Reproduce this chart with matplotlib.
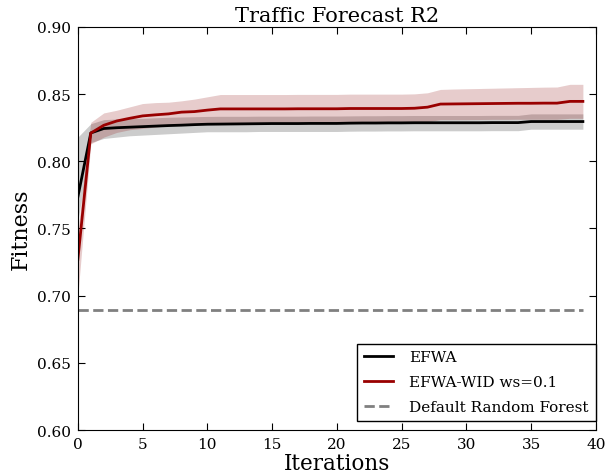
import matplotlib
matplotlib.use('Agg')
import matplotlib.pyplot as plt
import numpy as np

plt.rcParams['font.family'] = ['DejaVu Serif']

iterations = np.arange(40)

efwa_mean = [0.7735, 0.8211, 0.8244, 0.8250, 0.8254, 0.8258, 0.8262, 0.8266, 0.8269, 0.8273,
             0.8276, 0.8277, 0.8278, 0.8279, 0.8280, 0.8281, 0.8281, 0.8281, 0.8282, 0.8282,
             0.8282, 0.8284, 0.8285, 0.8285, 0.8286, 0.8286, 0.8287, 0.8287, 0.8287, 0.8287,
             0.8287, 0.8287, 0.8288, 0.8288, 0.8288, 0.8296, 0.8296, 0.8296, 0.8296, 0.8296]
efwa_low = [0.7550, 0.8140, 0.8170, 0.8180, 0.8190, 0.8195, 0.8200, 0.8205, 0.8210, 0.8215,
            0.8220, 0.8220, 0.8220, 0.8220, 0.8222, 0.8222, 0.8222, 0.8222, 0.8222, 0.8222,
            0.8222, 0.8224, 0.8225, 0.8225, 0.8226, 0.8226, 0.8227, 0.8227, 0.8227, 0.8227,
            0.8227, 0.8227, 0.8228, 0.8228, 0.8228, 0.8239, 0.8239, 0.8239, 0.8239, 0.8239]
efwa_high = [0.8180, 0.8280, 0.8310, 0.8315, 0.8318, 0.8320, 0.8324, 0.8328, 0.8330, 0.8332,
             0.8334, 0.8335, 0.8335, 0.8335, 0.8336, 0.8336, 0.8336, 0.8336, 0.8337, 0.8337,
             0.8337, 0.8338, 0.8339, 0.8339, 0.8340, 0.8340, 0.8341, 0.8341, 0.8341, 0.8341,
             0.8341, 0.8341, 0.8342, 0.8342, 0.8342, 0.8353, 0.8353, 0.8353, 0.8353, 0.8353]

wid_mean = [0.7270, 0.8210, 0.8268, 0.8300, 0.8320, 0.8338, 0.8346, 0.8353, 0.8366, 0.8370,
            0.8381, 0.8390, 0.8390, 0.8390, 0.8390, 0.8390, 0.8390, 0.8391, 0.8391, 0.8391,
            0.8391, 0.8393, 0.8393, 0.8393, 0.8393, 0.8393, 0.8395, 0.8403, 0.8426, 0.8427,
            0.8428, 0.8429, 0.8430, 0.8431, 0.8432, 0.8432, 0.8433, 0.8433, 0.8446, 0.8446]
wid_low = [0.7000, 0.8130, 0.8180, 0.8215, 0.8235, 0.8245, 0.8255, 0.8265, 0.8280, 0.8280,
           0.8280, 0.8285, 0.8285, 0.8285, 0.8285, 0.8285, 0.8285, 0.8286, 0.8286, 0.8286,
           0.8286, 0.8288, 0.8288, 0.8288, 0.8288, 0.8288, 0.8290, 0.8295, 0.8310, 0.8310,
           0.8310, 0.8311, 0.8312, 0.8312, 0.8313, 0.8313, 0.8313, 0.8313, 0.8320, 0.8320]
wid_high = [0.7490, 0.8290, 0.8360, 0.8380, 0.8405, 0.8430, 0.8437, 0.8440, 0.8450, 0.8463,
            0.8480, 0.8497, 0.8497, 0.8497, 0.8497, 0.8497, 0.8497, 0.8498, 0.8498, 0.8498,
            0.8498, 0.8500, 0.8500, 0.8500, 0.8500, 0.8500, 0.8502, 0.8510, 0.8535, 0.8538,
            0.8540, 0.8542, 0.8544, 0.8546, 0.8548, 0.8550, 0.8552, 0.8553, 0.8573, 0.8573]

baseline = 0.689

fig = plt.figure(figsize=(6.13, 4.77), dpi=100)
ax = fig.add_axes([0.127, 0.0964, 0.845, 0.845])

ax.fill_between(iterations, efwa_low, efwa_high, color='black', alpha=0.2, linewidth=0)
ax.fill_between(iterations, wid_low, wid_high, color='darkred', alpha=0.2, linewidth=0)
ax.plot(iterations, efwa_mean, color='black', lw=2, label='EFWA')
ax.plot(iterations, wid_mean, color='#990000', lw=2, label='EFWA-WID ws=0.1')
ax.axhline(baseline, xmin=0, xmax=39 / 40, color='gray', lw=2, ls='--',
           label='Default Random Forest')

ax.set_xlim(0, 40)
ax.set_ylim(0.60, 0.90)
ax.set_xticks(range(0, 41, 5))
ax.set_yticks(np.arange(0.60, 0.901, 0.05))
ax.set_yticklabels(['%.2f' % v for v in np.arange(0.60, 0.901, 0.05)])
ax.tick_params(direction='in', top=True, right=True, labelsize=11, length=5, pad=5)

ax.set_title('Traffic Forecast R2', fontsize=15, pad=4)
ax.set_xlabel('Iterations', fontsize=15.5, labelpad=1)
ax.set_ylabel('Fitness', fontsize=16, labelpad=4)

leg = ax.legend(loc='lower right', bbox_to_anchor=(1.0, 0.023), fontsize=11,
                fancybox=False, framealpha=1, edgecolor='black', borderaxespad=0,
                labelspacing=0.7, borderpad=0.45, handlelength=1.9, handletextpad=1.1)
leg.get_frame().set_linewidth(1)

fig.savefig('out.png', dpi=100)
